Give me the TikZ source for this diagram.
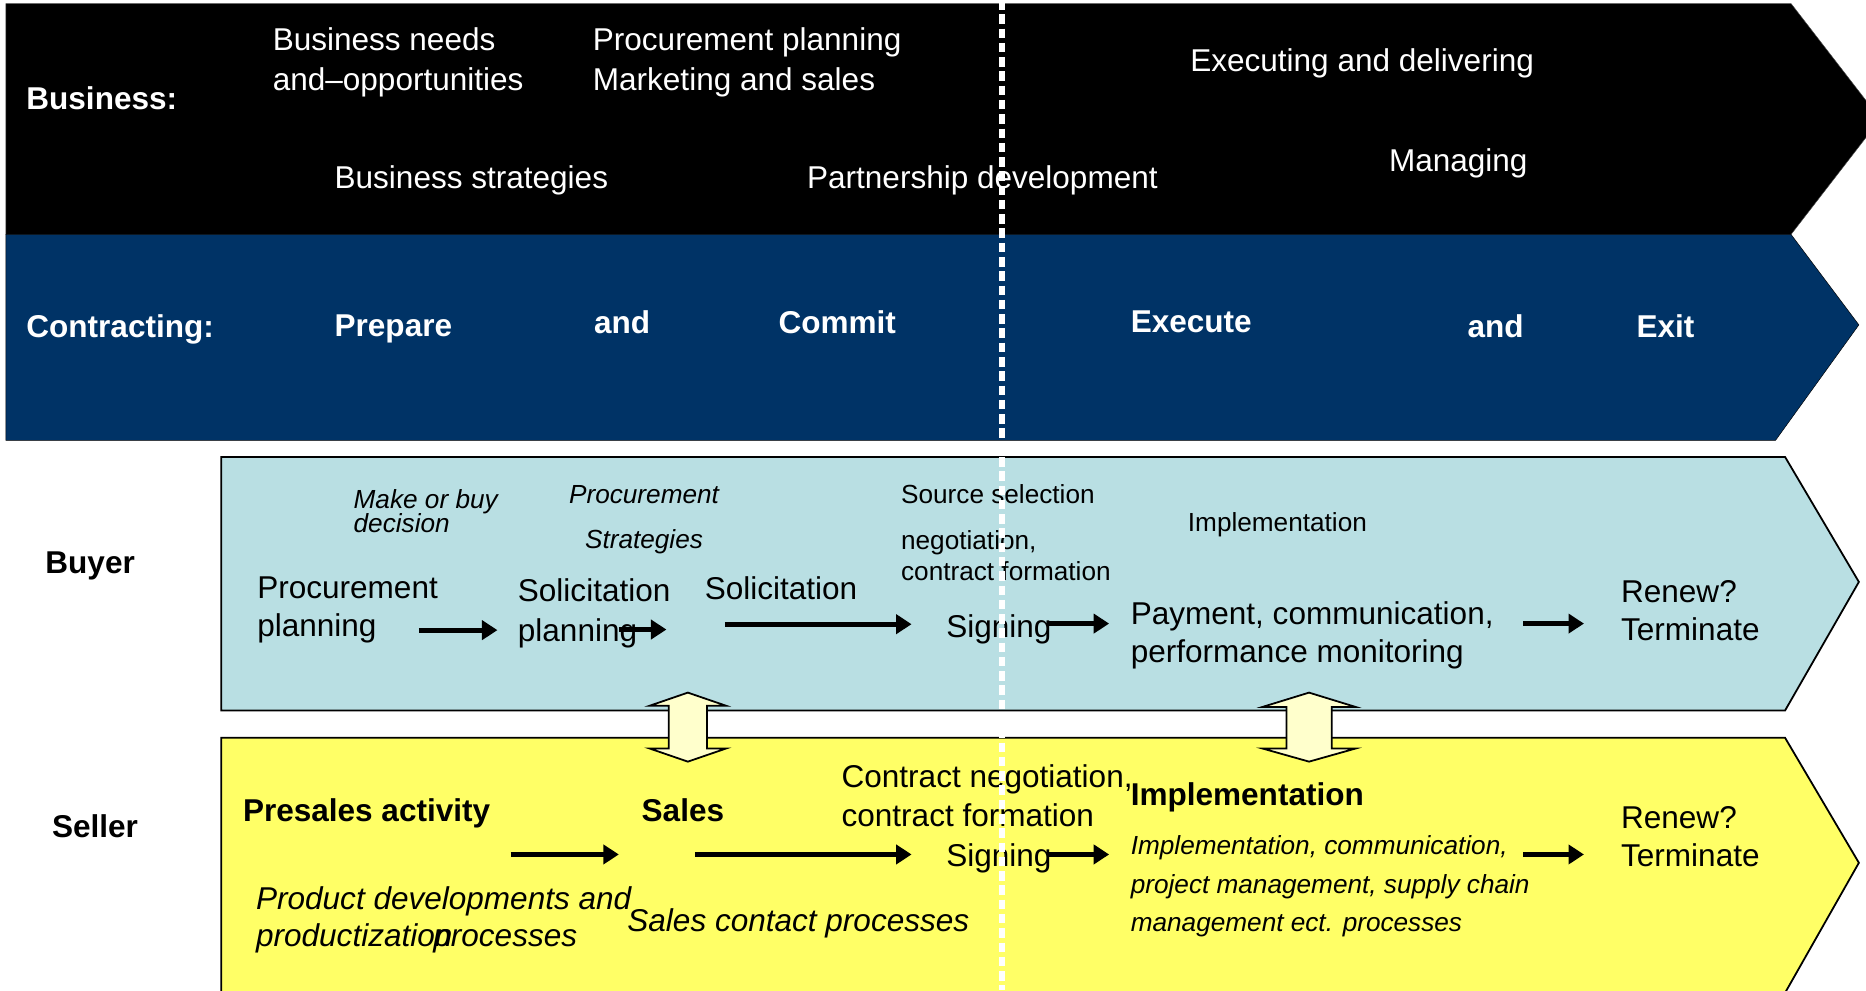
\documentclass[tikz,border=0pt]{standalone}
\usepackage{fontspec}
\setmainfont{Liberation Sans}
\usetikzlibrary{arrows.meta}
\definecolor{navy}{HTML}{003366}
\definecolor{buyerbg}{HTML}{B9DFE3}
\definecolor{sellerbg}{HTML}{FFFF66}
\definecolor{linkbg}{HTML}{FFFFCC}
\begin{document}
\begin{tikzpicture}[x=1pt,y=-1pt,
    txt/.style={anchor=base west, inner sep=0pt, align=left, font=\fontsize{26.5}{32}\selectfont},
    bold/.style={txt, font=\fontsize{26.5}{32}\selectfont\bfseries},
    note/.style={txt, font=\fontsize{22}{26}\selectfont},
    wtxt/.style={txt, text=white},
    wbold/.style={bold, text=white},
    flow/.style={line width=4pt, -{Triangle[length=13pt,width=16pt]}},
    dblarrow/.style={draw=black, line width=1.5pt, fill=linkbg}]
  \useasboundingbox (0,0) rectangle (1568,832);
  % bands
  \draw[fill=black, draw=black!70] (5,3) -- (1505,3) -- (1580,100) -- (1505,197) -- (5,197) -- cycle;
  \draw[fill=navy, draw=black] (5,197) -- (1505,197) -- (1562,273) -- (1492,370) -- (5,370) -- cycle;
  \draw[fill=buyerbg, line width=1.5pt] (186,384) -- (1500,384) -- (1562,489) -- (1500,597) -- (186,597) -- cycle;
  \draw[fill=sellerbg, line width=1.5pt] (186,836) -- (186,620) -- (1500,620) -- (1562,725) -- (1499,836);
  % business (multi-line nodes sit on their last baseline)
  \node[wbold] (bus) at (22,92) {Business:};
  \node[wtxt, font=\fontsize{26.5}{33.5}\selectfont] (needs) at (229,76) {Business needs\\and–opportunities};
  \node[wtxt, font=\fontsize{26.5}{33.5}\selectfont] (mkt) at (498,76) {Procurement planning\\Marketing and sales};
  \node[wtxt] (strat) at (281,158.5) {Business strategies};
  \node[wtxt] (partner) at (678,158.5) {Partnership development};
  \node[wtxt] (deliver) at (1000,60) {Executing and delivering};
  \node[wtxt] (manage) at (1167,144.5) {Managing};
  % contracting
  \node[wbold] (contr) at (22,284) {Contracting:};
  \node[wbold] (prep) at (281,283) {Prepare};
  \node[wbold] (andA) at (499,280) {and};
  \node[wbold] (commit) at (654,280) {Commit};
  \node[wbold] (exec) at (950,279) {Execute};
  \node[wbold] (andB) at (1233,284) {and};
  \node[wbold] (exit) at (1375,284) {Exit};
  \node[bold] (buyer) at (38,482) {Buyer};
  \node[bold] (seller) at (43.5,704) {Seller};
  % buyer
  \node[note, font=\fontsize{22}{20.6}\selectfont\itshape] (make) at (297,447.6) {Make or buy\\decision};
  \node[note, align=center, font=\fontsize{22}{37.6}\selectfont\itshape] (pstrat) at (478,460.6) {Procurement\\Strategies};
  \node[note] (source) at (757,423) {Source selection};
  \node[note, font=\fontsize{22}{25.5}\selectfont] (negot) at (757,487.5) {negotiation,\\contract formation};
  \node[note] (impl) at (998,447) {Implementation};
  \node[txt] (pplan) at (216,535) {Procurement\\planning};
  \node[txt, font=\fontsize{26.5}{33.4}\selectfont] (splan) at (435,539) {Solicitation\\planning};
  \node[txt] (solic) at (592,504) {Solicitation};
  \node[txt] (bsign) at (795,536) {Signing};
  \node[txt] (pay) at (950,557) {Payment, communication,\\performance monitoring};
  \node[txt] (brenew) at (1362,538) {Renew?\\Terminate};
  % seller
  \node[bold] (presales) at (204,690.5) {Presales activity};
  \node[bold] (sales) at (539,690.5) {Sales};
  \node[txt, font=\fontsize{26.5}{32.7}\selectfont] (cneg) at (707,694.7) {Contract negotiation,\\contract formation};
  \node[txt] (ssign) at (795,728) {Signing};
  \node[bold] (simpl) at (950,676.5) {Implementation};
  \node[note, font=\fontsize{22}{32.3}\selectfont\itshape] (sproc) at (950,783) {Implementation, communication,\\project management, supply chain\\management ect. processes};
  \node[txt] (srenew) at (1362,728) {Renew?\\Terminate};
  \node[txt, font=\fontsize{26.5}{31}\selectfont\itshape] (proddev) at (215,795.6) {Product developments and\\productization\hspace{-16pt}processes};
  \node[txt, font=\fontsize{26.5}{32}\selectfont\itshape] (scontact) at (527,783) {Sales contact processes};
  % arrows
  \foreach \n/\xa/\xb/\y in {1/352/418/529.5, 2/520/560/529, 3/609/766/524.5, 4/880/932/524, 5/1280/1331/524,
                             6/429/520/718, 7/584/766/718, 8/880/932/718, 9/1280/1331/718} {
    \coordinate (s\n) at (\xa,\y);
    \coordinate (e\n) at (\xb,\y);
    \draw[flow] (s\n) -- (e\n);
  }
  % buyer <-> seller
  \foreach \x/\h/\s/\a/\b in {578/32/16/593/629, 1100/39/19/594/629}
    \draw[dblarrow] (\x,582) -- (\x+\h,\a) -- (\x+\s,\a) -- (\x+\s,\b) -- (\x+\h,\b) -- (\x,640)
      -- (\x-\h,\b) -- (\x-\s,\b) -- (\x-\s,\a) -- (\x-\h,\a) -- cycle;
  % signing line
  \draw[white, line width=4.5pt, dash pattern=on 8pt off 4pt] (842,0) -- (842,832);
\end{tikzpicture}
\end{document}
